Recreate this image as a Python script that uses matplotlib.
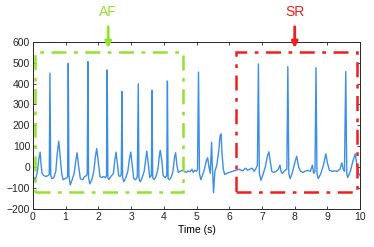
import matplotlib
matplotlib.use('Agg')
import matplotlib.pyplot as plt
from matplotlib.patches import Rectangle

# ECG trace, knots (time in s, amplitude)
time_s = [0.00, 0.03, 0.06, 0.10, 0.14, 0.18, 0.22, 0.25, 0.28, 0.33, 0.40, 0.46, 0.50,
          0.52, 0.545, 0.58, 0.64, 0.70, 0.74, 0.79, 0.84, 0.88, 0.92, 0.98, 1.04, 1.06,
          1.08, 1.10, 1.14, 1.20, 1.26, 1.31, 1.35, 1.40, 1.45, 1.52, 1.58, 1.64, 1.66,
          1.68, 1.70, 1.74, 1.80, 1.86, 1.91, 1.95, 2.00, 2.05, 2.10, 2.16, 2.22, 2.25,
          2.27, 2.29, 2.32, 2.38, 2.46, 2.50, 2.54, 2.58, 2.62, 2.66, 2.70,
          2.72, 2.74, 2.78, 2.84, 2.90, 2.95, 2.99, 3.04, 3.08, 3.14, 3.19,
          3.22, 3.24, 3.28, 3.34, 3.40, 3.45, 3.48, 3.53, 3.57, 3.62,
          3.64, 3.66, 3.70, 3.76, 3.82, 3.86, 3.89, 3.94, 3.98, 4.04, 4.09,
          4.11, 4.13, 4.17, 4.22, 4.28, 4.32, 4.36, 4.40, 4.44, 4.50, 4.56, 4.62, 4.68,
          4.74, 4.80, 4.86, 4.90, 4.94, 5.00, 5.03,
          5.06, 5.09, 5.13, 5.18, 5.24, 5.30, 5.34, 5.38, 5.42, 5.46, 5.48, 5.52, 5.56,
          5.62, 5.68, 5.72, 5.75, 5.78, 5.82, 5.86, 5.92, 6.00, 6.10, 6.20, 6.30, 6.40,
          6.50, 6.56, 6.62, 6.70, 6.76, 6.82, 6.86,
          6.89, 6.92, 6.97, 7.04, 7.10, 7.16, 7.21, 7.26, 7.30, 7.36, 7.44, 7.50, 7.55,
          7.58, 7.62, 7.70, 7.76,
          7.79, 7.82, 7.86, 7.92, 8.00, 8.06, 8.12, 8.18, 8.24, 8.32, 8.40, 8.48, 8.54,
          8.58, 8.62,
          8.65, 8.68, 8.72, 8.80, 8.88, 8.95, 9.00, 9.06, 9.14, 9.22, 9.30, 9.38, 9.44,
          9.48, 9.52,
          9.56, 9.59, 9.62, 9.70, 9.78, 9.85, 9.90, 9.95, 10.00]
ecg = [-60, -50, -65, -45, -20, 40, 72, 10, -30, -40, -45, -40, -35,
       450, -40, -55, -50, -20, 60, 124, 40, -30, -60, -55, -50, -45,
       497, -40, -85, -60, -30, 30, 69, 0, -55, -60, -45, -40, -30,
       505, -50, -80, -60, -20, 50, 89, 20, -45, -50, -45, -50, -40,
       465, -50, -60, -45, -30, 30, 72, 20, -40, -45, -35,
       362, -50, -70, -50, -20, 40, 72, 0, -55, -60, -45,
       399, -55, -70, -50, -20, 40, 77, 10, -50, -40,
       368, -50, -60, -45, -10, 50, 81, 30, -40, -50, -40,
       412, -55, -60, -50, -20, 40, 69, 10, -25, -20, -15, -20, -25,
       -18, -22, -10, -25, -15, -20, -10,
       455, -30, -60, -40, -10, 30, 45, 0, -30, 119, 20, -122, -20,
       10, 80, 150, 159, 60, -10, -35, -30, -25, -20, -15, -10, -18,
       -5, -15, -10, -5, -20, -5, 10,
       494, -30, -63, -30, 0, 50, 73, 20, -20, -25, -20, -10, 10,
       -20, -30, -15, -10,
       481, -30, -55, -30, 20, 52, 0, -20, -25, -20, -15, -20, 10,
       -30, -20,
       476, -30, -55, -30, 10, 64, 20, -15, -20, -18, -20, -10, 21,
       -10, -20,
       457, -30, -50, -20, 30, 64, 10, -30, -40]

# highlighted segments: (t_start, t_end, v_low, v_high)
af_box = (0.05, 4.58, -120, 550)
sr_box = (6.2, 9.9, -120, 550)
af_arrow_t = 2.3
sr_arrow_t = 8.0

xticks = list(range(0, 11))
yticks = [-200, -100, 0, 100, 200, 300, 400, 500, 600]

green = '#92e22e'
red = '#f01e1e'
blue = '#3d8fe6'

plt.rcParams['font.family'] = ['Liberation Sans', 'DejaVu Sans']

fig = plt.figure(figsize=(3.74, 2.47), dpi=100)
ax = fig.add_axes([0.088, 0.154, 0.875, 0.677])

ax.plot(time_s, ecg, color=blue, lw=1.0)

for (t0, t1, v0, v1), col in [(af_box, green), (sr_box, red)]:
    ax.add_patch(Rectangle((t0, v0), t1 - t0, v1 - v0, fill=False, edgecolor=col,
                           lw=1.8, linestyle=(0, (6, 3, 1.5, 3)), clip_on=False, zorder=3))

for t, txt, col in [(af_arrow_t, 'AF', green), (sr_arrow_t, 'SR', red)]:
    ax.annotate('', xy=(t, 570), xytext=(t, 672), annotation_clip=False,
                arrowprops=dict(arrowstyle='-|>', color=col, lw=2, mutation_scale=9,
                                shrinkA=0, shrinkB=0))
    ax.text(t, 742, txt, color=col, fontsize=10, ha='center', va='center', clip_on=False)

ax.set_xlim(0, 10)
ax.set_ylim(-200, 600)
ax.set_xticks(xticks)
ax.set_yticks(yticks)
ax.tick_params(direction='in', length=2.5, width=0.6, labelsize=7.5, top=True, right=True,
               colors='#262626', pad=2)
for s in ax.spines.values():
    s.set_linewidth(0.7)
    s.set_color('#262626')
ax.set_xlabel('Time (s)', fontsize=7.5, labelpad=2)

plt.savefig('out.png', dpi=100)
